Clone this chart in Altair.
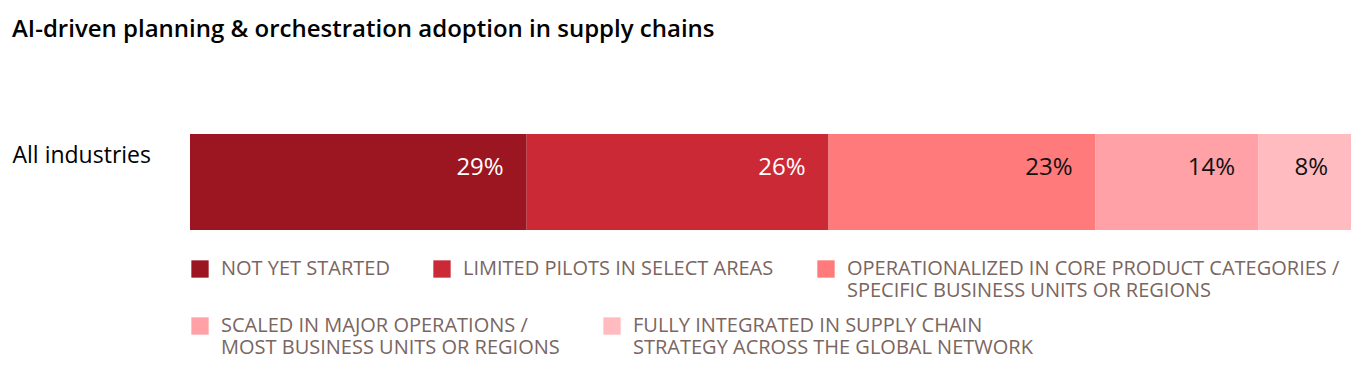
import altair as alt
import pandas as pd

title_text = "AI-driven planning & orchestration adoption in supply chains"
industry = ["All industries"] * 5
stages = [
    "NOT YET STARTED",
    "LIMITED PILOTS IN SELECT AREAS",
    "OPERATIONALIZED IN CORE PRODUCT CATEGORIES /|SPECIFIC BUSINESS UNITS OR REGIONS",
    "SCALED IN MAJOR OPERATIONS /|MOST BUSINESS UNITS OR REGIONS",
    "FULLY INTEGRATED IN SUPPLY CHAIN|STRATEGY ACROSS THE GLOBAL NETWORK",
]
values = [29, 26, 23, 14, 8]
order = [0, 1, 2, 3, 4]
colors = ["#9B1620", "#CC2936", "#FF7A7A", "#FFA1A6", "#FFBBBF"]

df = pd.DataFrame({"industry": industry, "stage": stages, "value": values, "order": order})

base = alt.Chart(df).transform_stack(
    stack="value", groupby=["industry"], as_=["x0", "x1"], sort=[alt.SortField("order")]
).transform_calculate(label="datum.value + '%'")

y_enc = alt.Y(
    "industry:N",
    title=None,
    scale=alt.Scale(paddingInner=0, paddingOuter=0),
    axis=alt.Axis(
        ticks=False, domain=False, labelAlign="left", labelPadding=178,
        labelFontSize=23, labelFont="Open Sans", labelColor="#000000",
        labelBaseline="middle", labelOffset=-26,
    ),
)
x_enc = alt.X("x0:Q", scale=alt.Scale(domain=[0, 100], nice=False, zero=True), axis=None)


def legend(y):
    return alt.Legend(
        title=None, orient="none", legendX=0, legendY=y, direction="horizontal",
        columnPadding=42, symbolType="square", symbolSize=300, symbolStrokeWidth=0,
        symbolOpacity=1, labelOffset=11, labelFontSize=20, labelFont="Open Sans",
        labelColor="#7A6560", labelLimit=700, labelBaseline="middle", padding=0,
        labelExpr="length(split(datum.label, '|')) > 1 ? split(datum.label, '|') : [datum.label, '']",
    )


bars_a = base.transform_filter("datum.order < 3").mark_bar().encode(
    x=x_enc, x2="x1:Q", y=y_enc,
    color=alt.Color("stage:N", scale=alt.Scale(domain=stages[:3], range=colors[:3]),
                    legend=legend(125)),
)
bars_b = base.transform_filter("datum.order >= 3").mark_bar().encode(
    x=x_enc, x2="x1:Q", y=y_enc,
    color=alt.Color("stage:N", scale=alt.Scale(domain=stages[3:], range=colors[3:]),
                    legend=legend(182)),
)

text = base.mark_text(align="right", baseline="middle", dx=-23, dy=-14, fontSize=24, font="Open Sans").encode(
    x="x1:Q",
    y=alt.Y("industry:N"),
    text="label:N",
    color=alt.condition("datum.order < 2", alt.value("#FFFFFF"), alt.value("#111111")),
)

chart = alt.layer(bars_a, bars_b, text).resolve_scale(color="independent").properties(
    width=1161, height=96,
    title=alt.TitleParams(
        title_text, anchor="start", frame="bounds", fontSize=24, fontWeight=600,
        font="Open Sans", color="#000000", offset=92,
    ),
    padding={"left": 4, "top": 10, "right": 0, "bottom": 4},
).configure_view(stroke=None)

chart.save("out.html", embed_options={"renderer": "svg", "actions": False})
